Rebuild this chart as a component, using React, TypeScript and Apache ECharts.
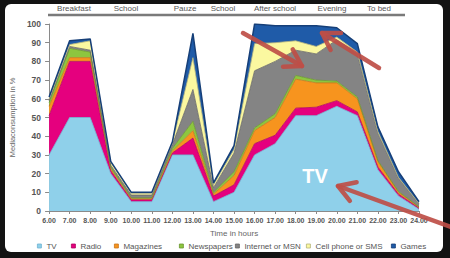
import React, { useEffect, useRef } from 'react';
import * as echarts from 'echarts';

const hours = ['6.00', '7.00', '8.00', '9.00', '10.00', '11.00', '12.00', '13.00', '14.00', '15.00', '16.00', '17.00', '18.00', '19.00', '20.00', '21.00', '22.00', '23.00', '24.00'];
const tv = [30, 50, 50, 20, 5, 5, 30, 30, 5, 10, 30, 36, 51, 51, 56, 51, 22, 8, 1];
const radio = [21, 30, 30, 1.5, 1, 1, 1, 9, 3, 4, 6, 4.5, 4, 4.5, 3, 2, 1.5, 1, 0.5];
const magazines = [5, 2, 2, 1, 0.5, 0.5, 1, 4, 1, 5, 7, 9.5, 15.5, 13, 9.5, 7, 3, 1, 0.5];
const newspapers = [2, 5, 3, 1, 0.5, 0.5, 1.5, 5, 1, 2, 1.5, 2, 2, 1.5, 1, 1, 0.5, 0.5, 0.2];
const internet = [1, 1, 1, 1, 1.5, 1.5, 2, 17, 2.5, 10, 30.5, 28, 13.5, 14, 22, 23, 14.5, 7, 1.5];
const cellphone = [1, 1, 5, 1.5, 1, 1, 1, 17, 1.5, 2, 14.5, 10, 5, 4, 1.5, 1, 1, 0.5, 0.3];
const games = [1, 2, 1, 0.5, 0.5, 0.5, 0.5, 13, 1, 2, 10.5, 9, 8, 11, 5, 4.5, 2.5, 3, 1];

const seriesNames = ['TV', 'Radio', 'Magazines', 'Newspapers', 'Internet or MSN', 'Cell phone or SMS', 'Games'];
const seriesData = [tv, radio, magazines, newspapers, internet, cellphone, games];
const fills = ['#8FD0EA', '#E5007E', '#F7941E', '#8DC63F', '#848484', '#FBF8A0', '#1F5BA8'];
const edges = ['#6FB3D2', '#B0005F', '#C8741A', '#6A9530', '#666666', '#B4B27A', '#163F78'];
const legendTextX = [46, 80, 123, 188, 244, 315, 400];

const periodLabels = ['Breakfast', 'School', 'Pauze', 'School', 'After school', 'Evening', 'To bed'];
const periodX = [74, 126, 185, 223, 275, 332, 379];

const FONT = '"Liberation Sans", Arial, sans-serif';
const ARROW = 'rgba(190,78,70,0.92)';

function arrow(x1: number, y1: number, x2: number, y2: number) {
  const ang = Math.atan2(y1 - y2, x1 - x2);
  const len = 19;
  const spread = 0.55;
  const a = [x2 + len * Math.cos(ang + spread), y2 + len * Math.sin(ang + spread)];
  const b = [x2 + len * Math.cos(ang - spread), y2 + len * Math.sin(ang - spread)];
  const style = { stroke: ARROW, lineWidth: 4.5, lineCap: 'round', lineJoin: 'round', fill: null };
  return [
    { type: 'line', z: 100, shape: { x1, y1, x2, y2 }, style },
    { type: 'polyline', z: 100, shape: { points: [a, [x2, y2], b] }, style },
  ];
}

export default function App() {
  const ref = useRef<HTMLDivElement>(null);
  useEffect(() => {
    if (!ref.current) return;
    const chart = echarts.init(ref.current, null, { renderer: 'svg' });
    const series = seriesNames.map((name, i) => ({
      name,
      type: 'line',
      stack: 'media',
      data: seriesData[i],
      symbol: 'none',
      smooth: false,
      lineStyle: { color: edges[i], width: i === 6 ? 1.5 : 0.8 },
      areaStyle: { color: fills[i], opacity: 1 },
      itemStyle: { color: fills[i], borderColor: edges[i], borderWidth: 1 },
      emphasis: { disabled: true },
    }));
    const legends = seriesNames.map((name, i) => ({
      data: [name],
      left: legendTextX[i] - 9,
      top: 242,
      padding: 0,
      icon: 'rect',
      itemWidth: 4,
      itemHeight: 4,
      itemStyle: { borderColor: edges[i], borderWidth: 0.8 },
      selectedMode: false,
      textStyle: { fontFamily: FONT, fontSize: 8, color: '#555' },
    }));
    const periodTexts = periodLabels.map((t, i) => ({
      type: 'text',
      z: 50,
      x: periodX[i],
      y: 8,
      style: { text: t, fontFamily: FONT, fontSize: 8, fill: '#555', align: 'center', verticalAlign: 'middle' },
    }));
    chart.setOption({
      animation: false,
      backgroundColor: '#131313',
      grid: { left: 45, right: 31, top: 24, bottom: 47 },
      legend: legends,
      xAxis: {
        type: 'category',
        data: hours,
        boundaryGap: false,
        axisLine: { lineStyle: { color: '#8a8a8a', width: 1 } },
        axisTick: { show: true, length: 3, lineStyle: { color: '#8a8a8a' } },
        axisLabel: { interval: 0, margin: 6, fontFamily: FONT, fontSize: 7, fontWeight: 'bold', color: '#555' },
        name: 'Time in hours',
        nameLocation: 'middle',
        nameGap: 18,
        nameTextStyle: { fontFamily: FONT, fontSize: 8, color: '#666' },
      },
      yAxis: {
        type: 'value',
        min: 0,
        max: 100,
        interval: 10,
        splitLine: { show: false },
        axisLine: { show: true, lineStyle: { color: '#8a8a8a', width: 1 } },
        axisTick: { show: true, length: 4, lineStyle: { color: '#8a8a8a' } },
        axisLabel: { margin: 8, fontFamily: FONT, fontSize: 8.5, fontWeight: 'bold', color: '#555' },
        name: 'Mediaconsumption in %',
        nameLocation: 'middle',
        nameGap: 28,
        nameTextStyle: { fontFamily: FONT, fontSize: 7.5, color: '#666' },
      },
      graphic: [
        { type: 'rect', z: -100, shape: { x: 5, y: 4, width: 438, height: 248, r: 6 }, style: { fill: '#ffffff' } },
        { type: 'line', z: 50, shape: { x1: 48, y1: 15, x2: 405, y2: 15 }, style: { stroke: '#7a7a7a', lineWidth: 2.5 } },
        ...periodTexts,
        {
          type: 'text', z: 100, x: 315, y: 176,
          style: { text: 'TV', fontFamily: FONT, fontSize: 20, fontWeight: 'bold', fill: '#ffffff', align: 'center', verticalAlign: 'middle' },
        },
        ...arrow(243, 33, 302, 66),
        ...arrow(379, 68, 322, 33),
        ...arrow(462, 231, 338, 186),
      ],
      series,
    });
    return () => chart.dispose();
  }, []);
  return <div ref={ref} style={{ position: 'fixed', left: 0, top: 0, width: 450, height: 258 }} />;
}
